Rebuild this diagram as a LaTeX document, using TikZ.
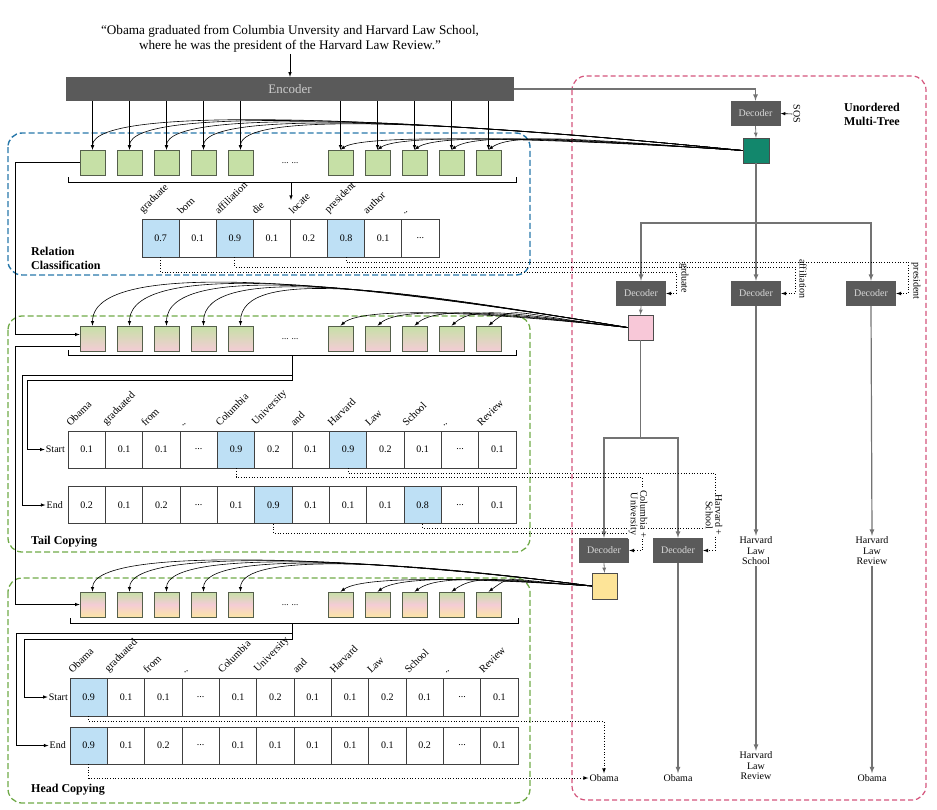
\documentclass[tikz,border=0pt]{standalone}
\usepackage{fontspec}
\setmainfont{Liberation Serif}
\usepackage{tikz}
\usetikzlibrary{arrows,%
                shapes,positioning}
\definecolor{encgray}{RGB}{90,90,90}
\definecolor{treegray}{RGB}{115,115,115}
\definecolor{sqgreen}{RGB}{198,224,166}
\definecolor{sqpink}{RGB}{244,204,214}
\definecolor{sqyellow}{RGB}{252,229,165}
\definecolor{sqborder}{RGB}{85,95,75}
\definecolor{cellblue}{RGB}{190,224,245}
\definecolor{boxblue}{RGB}{40,120,170}
\definecolor{boxgreen}{RGB}{112,170,72}
\definecolor{boxpink}{RGB}{212,84,124}
\definecolor{tealsq}{RGB}{18,135,108}
\definecolor{pinksq}{RGB}{248,200,216}
\definecolor{yellowsq}{RGB}{253,228,152}

\begin{document}
\begin{tikzpicture}[x=1pt,y=-1pt,>=latex,
  sqbox/.style={draw=sqborder,line width=0.6pt,minimum width=25pt,minimum height=25pt,inner sep=0pt},
  relsq/.style={sqbox,fill=sqgreen},
  tailsq/.style={sqbox,top color=sqgreen,bottom color=sqpink},
  headsq/.style={sqbox,top color=sqgreen,bottom color=sqyellow,middle color=sqpink},
  cell/.style={draw=black!75,line width=0.6pt,minimum width=37.1pt,minimum height=38pt,inner sep=0pt,font=\fontsize{10}{12}\selectfont},
  tcell/.style={cell,minimum width=37.33pt,minimum height=37pt},
  hit/.style={fill=cellblue},
  word/.style={rotate=45,anchor=south west,inner sep=1pt,font=\fontsize{10.5}{12}\selectfont},
  decbox/.style={fill=encgray,text=white!85!black,minimum width=50pt,minimum height=25pt,inner sep=0pt,font=\fontsize{10}{12}\selectfont},
  treeline/.style={draw=treegray,line width=1.2pt},
  wire/.style={line width=0.6pt},
  copyline/.style={line width=0.6pt},
  dotline/.style={dotted,line width=0.7pt},
  rlbl/.style={rotate=-90,inner sep=1pt,font=\fontsize{10}{12}\selectfont},
  plain/.style={inner sep=1pt,font=\fontsize{10}{12}\selectfont},
  boxlbl/.style={inner sep=0pt,align=left,font=\fontsize{12}{14}\selectfont\bfseries},
  relbox/.style={draw=boxblue,dash pattern=on 6pt off 3pt,line width=1.4pt,rounded corners=14pt},
  copybox/.style={draw=boxgreen,dash pattern=on 6pt off 3pt,line width=1.3pt,rounded corners=14pt},
  treebox/.style={draw=boxpink,dash pattern=on 5pt off 3pt,line width=1.2pt,rounded corners=14pt}]
\useasboundingbox (0,0) rectangle (937,809);
\draw[relbox] (8,133) rectangle (530,275);
\draw[copybox] (8,316) rectangle (530,552);
\draw[copybox] (8,578) rectangle (530,803);
\draw[treebox] (572,76) rectangle (926,800);
\node[align=center,inner sep=1pt,font=\fontsize{13.2}{15}\selectfont] (sent) at (290,39) {“Obama graduated from Columbia Unversity and Harvard Law School,\\where he was the president of the Harvard Law Review.”};
\node[fill=encgray,text=white!80!black,minimum width=448pt,minimum height=24pt,inner sep=0pt,font=\fontsize{13}{15}\selectfont] (enc) at (290,89) {Encoder};
\draw[wire,->] (sent) -- (enc);
\node[relsq] (rs1) at (92.5,162.5) {};
\node[relsq] (rs2) at (129.5,162.5) {};
\node[relsq] (rs3) at (166.5,162.5) {};
\node[relsq] (rs4) at (203.5,162.5) {};
\node[relsq] (rs5) at (240.5,162.5) {};
\node[relsq] (rs6) at (340.5,162.5) {};
\node[relsq] (rs7) at (377.5,162.5) {};
\node[relsq] (rs8) at (414.5,162.5) {};
\node[relsq] (rs9) at (451.5,162.5) {};
\node[relsq] (rs10) at (488.5,162.5) {};
\node[plain,font=\fontsize{9}{10}\selectfont] (rdots) at (290,163) {... ...};
\node[tailsq] (ts1) at (92.5,338.5) {};
\node[tailsq] (ts2) at (129.5,338.5) {};
\node[tailsq] (ts3) at (166.5,338.5) {};
\node[tailsq] (ts4) at (203.5,338.5) {};
\node[tailsq] (ts5) at (240.5,338.5) {};
\node[tailsq] (ts6) at (340.5,338.5) {};
\node[tailsq] (ts7) at (377.5,338.5) {};
\node[tailsq] (ts8) at (414.5,338.5) {};
\node[tailsq] (ts9) at (451.5,338.5) {};
\node[tailsq] (ts10) at (488.5,338.5) {};
\node[plain,font=\fontsize{9}{10}\selectfont] (tdots) at (290,339) {... ...};
\node[headsq] (hs1) at (92.5,604.5) {};
\node[headsq] (hs2) at (129.5,604.5) {};
\node[headsq] (hs3) at (166.5,604.5) {};
\node[headsq] (hs4) at (203.5,604.5) {};
\node[headsq] (hs5) at (240.5,604.5) {};
\node[headsq] (hs6) at (340.5,604.5) {};
\node[headsq] (hs7) at (377.5,604.5) {};
\node[headsq] (hs8) at (414.5,604.5) {};
\node[headsq] (hs9) at (451.5,604.5) {};
\node[headsq] (hs10) at (488.5,604.5) {};
\node[plain,font=\fontsize{9}{10}\selectfont] (hdots) at (290,605) {... ...};
\draw[wire,->] (rs1 |- enc.south) -- (rs1.north);
\draw[wire,->] (rs2 |- enc.south) -- (rs2.north);
\draw[wire,->] (rs3 |- enc.south) -- (rs3.north);
\draw[wire,->] (rs4 |- enc.south) -- (rs4.north);
\draw[wire,->] (rs5 |- enc.south) -- (rs5.north);
\draw[wire,->] (rs6 |- enc.south) -- (rs6.north);
\draw[wire,->] (rs7 |- enc.south) -- (rs7.north);
\draw[wire,->] (rs8 |- enc.south) -- (rs8.north);
\draw[wire,->] (rs9 |- enc.south) -- (rs9.north);
\draw[wire,->] (rs10 |- enc.south) -- (rs10.north);
\node[cell,hit] (rc1) at (160.55,238) {0.7};
\node[cell] (rc2) at (197.65,238) {0.1};
\node[cell,hit] (rc3) at (234.75,238) {0.9};
\node[cell] (rc4) at (271.85,238) {0.1};
\node[cell] (rc5) at (308.95,238) {0.2};
\node[cell,hit] (rc6) at (346.05,238) {0.8};
\node[cell] (rc7) at (383.15,238) {0.1};
\node[cell] (rc8) at (420.25,238) {...};
\node[word] (rw1) at ([xshift=3pt,yshift=2pt]rc1.north west) {graduate};
\node[word] (rw2) at ([xshift=3pt,yshift=2pt]rc2.north west) {born};
\node[word] (rw3) at ([xshift=3pt,yshift=2pt]rc3.north west) {affiliation};
\node[word] (rw4) at ([xshift=3pt,yshift=2pt]rc4.north west) {die};
\node[word] (rw5) at ([xshift=3pt,yshift=2pt]rc5.north west) {locate};
\node[word] (rw6) at ([xshift=3pt,yshift=2pt]rc6.north west) {president};
\node[word] (rw7) at ([xshift=3pt,yshift=2pt]rc7.north west) {author};
\node[word] (rw8) at ([xshift=3pt,yshift=2pt]rc8.north west) {..};
\draw[wire] (68,177) -- (68,182) -- (516,182) -- (516,177);
\coordinate (rbr) at (291,182);
\draw[wire,->] (rbr) -- ++(0,18);
\node[boxlbl,anchor=west] (lrel) at (31,258) {Relation\\Classification};
\node[tcell] (ta1) at (86.67,449.5) {0.1};
\node[tcell] (ta2) at (124.0,449.5) {0.1};
\node[tcell] (ta3) at (161.33,449.5) {0.1};
\node[tcell] (ta4) at (198.67,449.5) {...};
\node[tcell,hit] (ta5) at (236.0,449.5) {0.9};
\node[tcell] (ta6) at (273.33,449.5) {0.2};
\node[tcell] (ta7) at (310.67,449.5) {0.1};
\node[tcell,hit] (ta8) at (348.0,449.5) {0.9};
\node[tcell] (ta9) at (385.33,449.5) {0.2};
\node[tcell] (ta10) at (422.67,449.5) {0.1};
\node[tcell] (ta11) at (460.0,449.5) {...};
\node[tcell] (ta12) at (497.33,449.5) {0.1};
\node[tcell] (tb1) at (86.67,505) {0.2};
\node[tcell] (tb2) at (124.0,505) {0.1};
\node[tcell] (tb3) at (161.33,505) {0.2};
\node[tcell] (tb4) at (198.67,505) {...};
\node[tcell] (tb5) at (236.0,505) {0.1};
\node[tcell,hit] (tb6) at (273.33,505) {0.9};
\node[tcell] (tb7) at (310.67,505) {0.1};
\node[tcell] (tb8) at (348.0,505) {0.1};
\node[tcell] (tb9) at (385.33,505) {0.1};
\node[tcell,hit] (tb10) at (422.67,505) {0.8};
\node[tcell] (tb11) at (460.0,505) {...};
\node[tcell] (tb12) at (497.33,505) {0.1};
\node[word] (tw1) at ([xshift=3pt,yshift=2pt]ta1.north west) {Obama};
\node[word] (tw2) at ([xshift=3pt,yshift=2pt]ta2.north west) {graduated};
\node[word] (tw3) at ([xshift=3pt,yshift=2pt]ta3.north west) {from};
\node[word] (tw4) at ([xshift=3pt,yshift=2pt]ta4.north west) {..};
\node[word] (tw5) at ([xshift=3pt,yshift=2pt]ta5.north west) {Columbia};
\node[word] (tw6) at ([xshift=3pt,yshift=2pt]ta6.north west) {University};
\node[word] (tw7) at ([xshift=3pt,yshift=2pt]ta7.north west) {and};
\node[word] (tw8) at ([xshift=3pt,yshift=2pt]ta8.north west) {Harvard};
\node[word] (tw9) at ([xshift=3pt,yshift=2pt]ta9.north west) {Law};
\node[word] (tw10) at ([xshift=3pt,yshift=2pt]ta10.north west) {School};
\node[word] (tw11) at ([xshift=3pt,yshift=2pt]ta11.north west) {..};
\node[word] (tw12) at ([xshift=3pt,yshift=2pt]ta12.north west) {Review};
\node[plain,anchor=east] (tstart) at (66,449.5) {Start};
\node[plain,anchor=east] (tend) at (64,505) {End};
\draw[wire] (68,350) -- (68,355) -- (516,355) -- (516,350);
\coordinate (tbr) at (292,355);
\draw[wire,->] (tbr) |- (22,375) |- (tend.west);
\draw[wire,->] (tbr) |- (27,380) |- (tstart.west);
\node[boxlbl,anchor=west] (ltail) at (31,542) {Tail Copying};
\node[cell,hit] (ha1) at (88.67,697) {0.9};
\node[cell] (ha2) at (126.0,697) {0.1};
\node[cell] (ha3) at (163.33,697) {0.1};
\node[cell] (ha4) at (200.67,697) {...};
\node[cell] (ha5) at (238.0,697) {0.1};
\node[cell] (ha6) at (275.33,697) {0.2};
\node[cell] (ha7) at (312.67,697) {0.1};
\node[cell] (ha8) at (350.0,697) {0.1};
\node[cell] (ha9) at (387.33,697) {0.2};
\node[cell] (ha10) at (424.67,697) {0.1};
\node[cell] (ha11) at (462.0,697) {...};
\node[cell] (ha12) at (499.33,697) {0.1};
\node[tcell,hit] (hb1) at (88.67,745.5) {0.9};
\node[tcell] (hb2) at (126.0,745.5) {0.1};
\node[tcell] (hb3) at (163.33,745.5) {0.2};
\node[tcell] (hb4) at (200.67,745.5) {...};
\node[tcell] (hb5) at (238.0,745.5) {0.1};
\node[tcell] (hb6) at (275.33,745.5) {0.1};
\node[tcell] (hb7) at (312.67,745.5) {0.1};
\node[tcell] (hb8) at (350.0,745.5) {0.1};
\node[tcell] (hb9) at (387.33,745.5) {0.1};
\node[tcell] (hb10) at (424.67,745.5) {0.2};
\node[tcell] (hb11) at (462.0,745.5) {...};
\node[tcell] (hb12) at (499.33,745.5) {0.1};
\node[word] (hw1) at ([xshift=3pt,yshift=2pt]ha1.north west) {Obama};
\node[word] (hw2) at ([xshift=3pt,yshift=2pt]ha2.north west) {graduated};
\node[word] (hw3) at ([xshift=3pt,yshift=2pt]ha3.north west) {from};
\node[word] (hw4) at ([xshift=3pt,yshift=2pt]ha4.north west) {..};
\node[word] (hw5) at ([xshift=3pt,yshift=2pt]ha5.north west) {Columbia};
\node[word] (hw6) at ([xshift=3pt,yshift=2pt]ha6.north west) {University};
\node[word] (hw7) at ([xshift=3pt,yshift=2pt]ha7.north west) {and};
\node[word] (hw8) at ([xshift=3pt,yshift=2pt]ha8.north west) {Harvard};
\node[word] (hw9) at ([xshift=3pt,yshift=2pt]ha9.north west) {Law};
\node[word] (hw10) at ([xshift=3pt,yshift=2pt]ha10.north west) {School};
\node[word] (hw11) at ([xshift=3pt,yshift=2pt]ha11.north west) {..};
\node[word] (hw12) at ([xshift=3pt,yshift=2pt]ha12.north west) {Review};
\node[plain,anchor=east] (hstart) at (69,697) {Start};
\node[plain,anchor=east] (hend) at (67,745.5) {End};
\draw[wire] (70,618) -- (70,623) -- (518,623) -- (518,618);
\coordinate (hbr) at (292,623);
\draw[wire,->] (hbr) |- (16,633) |- (hend.west);
\draw[wire,->] (hbr) |- (24,639) |- (hstart.west);
\node[boxlbl,anchor=west] (lhead) at (31,790) {Head Copying};
\draw[wire,->] (rs1.west) -- ++(-64.5,0) |- ([yshift=4pt]ts1.west);
\draw[wire,->] ([yshift=-7.5pt]ts1.west) -- ++(-64.5,0) |- (hs1.west);
\node[decbox] (dec0) at (755.5,113.5) {Decoder};
\node[rlbl] (sos) at (797,114) {SOS};
\draw[wire,->] (sos.south) -- (dec0.east);
\node[boxlbl,align=center] (lumt) at (872,114) {Unordered\\Multi-Tree};
\node[draw=black!70,fill=tealsq,minimum width=26pt,minimum height=25pt,inner sep=0pt] (relout) at (756,150.5) {};
\node[decbox] (dg) at (641,293.5) {Decoder};
\node[decbox] (da) at (756,293.5) {Decoder};
\node[decbox] (dp) at (871,293.5) {Decoder};
\node[draw=black!70,fill=pinksq,minimum width=25pt,minimum height=25pt,inner sep=0pt] (tailout) at (640.5,327.5) {};
\node[decbox] (dca) at (604,550.5) {Decoder};
\node[decbox] (dhs) at (678,550.5) {Decoder};
\node[draw=black!70,fill=yellowsq,minimum width=25pt,minimum height=26pt,inner sep=0pt] (headout) at (604.5,586) {};
\node[plain,align=center,font=\fontsize{10}{10.5}\selectfont] (hls) at (756,551) {Harvard\\Law\\School};
\node[plain,align=center,font=\fontsize{10}{10.5}\selectfont] (hlr) at (756,766) {Harvard\\Law\\Review};
\node[plain,align=center,font=\fontsize{10}{10.5}\selectfont] (hlr2) at (872,551) {Harvard\\Law\\Review};
\node[plain] (ob1) at (604,778) {Obama};
\node[plain] (ob2) at (678,778) {Obama};
\node[plain] (ob3) at (872,778) {Obama};
\draw[treeline,->] (enc.east) -| (dec0.north);
\draw[treeline,line width=0.8pt,->] (dec0.south) -- (relout.north);
\coordinate (tb0) at (756,223);
\draw[treeline] (relout.south) -- (tb0);
\draw[treeline,->] (tb0) -| (dg.north);
\draw[treeline,->] (tb0) -- (da.north);
\draw[treeline,->] (tb0) -| (dp.north);
\draw[treeline,line width=0.8pt,->] (dg.south) -- (tailout.north);
\coordinate (tb1) at (640.5,438);
\draw[treeline] (tailout.south) -- (tb1);
\draw[treeline,->] (tb1) -| (dca.north);
\draw[treeline,->] (tb1) -| (dhs.north);
\draw[treeline,line width=0.8pt,->] (dca.south) -- (headout.north);
\draw[treeline,->] (dhs.south) -- (ob2.north);
\draw[treeline,->] (da.south) -- (hls.north);
\draw[treeline,->] (hls.south) -- (hlr.north);
\draw[treeline,->] (dp.south) -- (hlr2.north);
\draw[treeline,->] (hlr2.south) -- (ob3.north);
\draw[dotline,->] (rc1.south) |- (676,272) |- (dg.east);
\draw[dotline,->] (rc3.south) |- (795,267) |- (da.east);
\draw[dotline,->] (rc6.south) |- (908,262) |- (dp.east);
\node[rlbl] (lgr) at (684,278) {grduate};
\node[rlbl] (laf) at (803,279) {affiliation};
\node[rlbl] (lpr) at (916,281) {president};
\draw[dotline] (ta5.south) |- (642,477) -- (642,500);
\draw[dotline,->] (tb6.south) |- (642,533) |- (dca.east);
\draw[dotline] (ta8.south) |- (715,473) -- (715,500);
\draw[dotline,->] (tb10.south) |- (715,528) |- (dhs.east);
\node[rlbl,fill=white,align=center,font=\fontsize{10}{9.5}\selectfont] (lcu) at (638,514) {Columbia +\\University};
\node[rlbl,fill=white,align=center,font=\fontsize{10}{9.5}\selectfont] (lhs) at (714,515) {Harvard +\\School};
\draw[dotline,->] (ha1.south) -- ++(0,5) -| (ob1.north);
\draw[dotline,->] (hb1.south) |- (ob1.west);
\draw[copyline,->] (relout.west) .. controls +(-300,-30) and +(0,-48) .. (rs1.north);
\draw[copyline,->] (relout.west) .. controls +(-300,-30) and +(0,-46) .. (rs2.north);
\draw[copyline,->] (relout.west) .. controls +(-300,-30) and +(0,-43) .. (rs3.north);
\draw[copyline,->] (relout.west) .. controls +(-300,-30) and +(0,-40) .. (rs4.north);
\draw[copyline,->] (relout.west) .. controls +(-300,-30) and +(0,-38) .. (rs5.north);
\draw[copyline,->] (relout.west) .. controls +(-150,-10) and +(25,-18) .. (rs6.north);
\draw[copyline,->] (relout.west) .. controls +(-150,-10) and +(25,-18) .. (rs7.north);
\draw[copyline,->] (relout.west) .. controls +(-150,-10) and +(25,-18) .. (rs8.north);
\draw[copyline,->] (relout.west) .. controls +(-150,-10) and +(25,-18) .. (rs9.north);
\draw[copyline,->] (relout.west) .. controls +(-150,-10) and +(25,-18) .. (rs10.north);
\draw[copyline,->] (tailout.west) .. controls +(-230,-38) and +(0,-75) .. (ts1.north);
\draw[copyline,->] (tailout.west) .. controls +(-230,-38) and +(0,-72) .. (ts2.north);
\draw[copyline,->] (tailout.west) .. controls +(-230,-38) and +(0,-68) .. (ts3.north);
\draw[copyline,->] (tailout.west) .. controls +(-230,-38) and +(0,-64) .. (ts4.north);
\draw[copyline,->] (tailout.west) .. controls +(-230,-38) and +(0,-60) .. (ts5.north);
\draw[copyline,->] (tailout.west) .. controls +(-110,-12) and +(25,-22) .. (ts6.north);
\draw[copyline,->] (tailout.west) .. controls +(-110,-12) and +(25,-22) .. (ts7.north);
\draw[copyline,->] (tailout.west) .. controls +(-110,-12) and +(25,-22) .. (ts8.north);
\draw[copyline,->] (tailout.west) .. controls +(-110,-12) and +(25,-22) .. (ts9.north);
\draw[copyline,->] (tailout.west) .. controls +(-110,-12) and +(25,-22) .. (ts10.north);
\draw[copyline,->] (headout.west) .. controls +(-190,-25) and +(0,-50) .. (hs1.north);
\draw[copyline,->] (headout.west) .. controls +(-190,-25) and +(0,-48) .. (hs2.north);
\draw[copyline,->] (headout.west) .. controls +(-190,-25) and +(0,-45) .. (hs3.north);
\draw[copyline,->] (headout.west) .. controls +(-190,-25) and +(0,-42) .. (hs4.north);
\draw[copyline,->] (headout.west) .. controls +(-190,-25) and +(0,-40) .. (hs5.north);
\draw[copyline,->] (headout.west) .. controls +(-90,-6) and +(25,-18) .. (hs6.north);
\draw[copyline,->] (headout.west) .. controls +(-90,-6) and +(25,-18) .. (hs7.north);
\draw[copyline,->] (headout.west) .. controls +(-90,-6) and +(25,-18) .. (hs8.north);
\draw[copyline,->] (headout.west) .. controls +(-90,-6) and +(25,-18) .. (hs9.north);
\draw[copyline,->] (headout.west) .. controls +(-90,-6) and +(25,-18) .. (hs10.north);
\end{tikzpicture}
\end{document}
